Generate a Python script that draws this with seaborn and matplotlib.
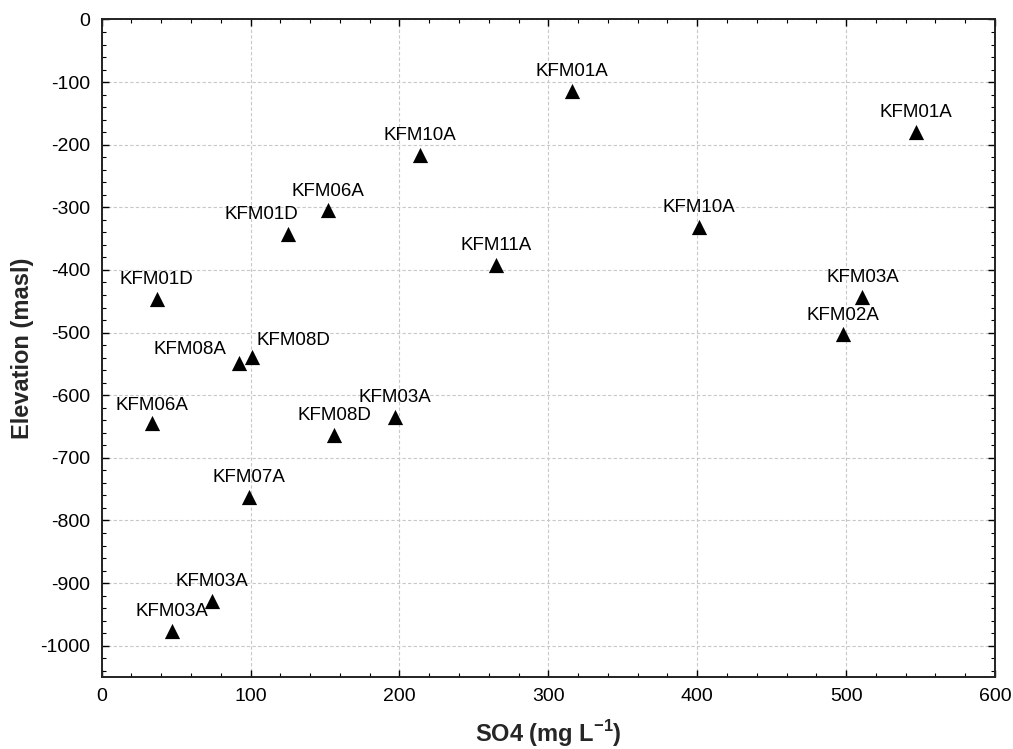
import matplotlib
matplotlib.use("Agg")
import matplotlib.pyplot as plt
import seaborn as sns
import pandas as pd
from matplotlib.ticker import MultipleLocator

# ---- data ----
wells = ["KFM01A", "KFM01A", "KFM10A", "KFM06A", "KFM01D", "KFM10A", "KFM11A",
         "KFM01D", "KFM03A", "KFM02A", "KFM08A", "KFM08D", "KFM06A", "KFM08D",
         "KFM03A", "KFM07A", "KFM03A", "KFM03A"]
so4 = [316, 547, 214, 152, 125, 401, 265, 37, 511, 498, 92, 101, 34, 156,
       197, 99, 74, 47]
elevation = [-114, -179, -216, -305, -342, -331, -392, -447, -443, -502, -548,
             -539, -645, -663, -635, -763, -929, -977]

x_ticks = [0, 100, 200, 300, 400, 500, 600]
y_ticks = [0, -100, -200, -300, -400, -500, -600, -700, -800, -900, -1000]

# label offsets in points (layout only)
label_dx = [0, 0, 0, 0, -19, 0, 0, 0, 0, 0, -35, 30, 0, 0, 0, 0, 0, 0]
label_dy = [14, 14, 14, 14, 14, 14, 14, 14, 14, 13, 9.5, 12, 13, 14, 14, 14, 14, 14]

df = pd.DataFrame({"well": wells, "SO4": so4, "Elevation": elevation})

sns.set_style("ticks")
plt.rcParams["font.family"] = ["Liberation Sans", "DejaVu Sans"]
plt.rcParams["axes.unicode_minus"] = False
plt.rcParams["mathtext.fontset"] = "custom"
plt.rcParams["mathtext.rm"] = "Liberation Sans"
plt.rcParams["mathtext.bf"] = "Liberation Sans:bold"

fig = plt.figure(figsize=(10.13, 7.49), dpi=100)
ax = fig.add_axes([0.1004, 0.0961, 0.8818, 0.8779])

sns.scatterplot(data=df, x="SO4", y="Elevation", marker="^", s=120,
                color="black", edgecolor="black", linewidth=0, ax=ax,
                zorder=3, legend=False)

for w, xv, yv, dx, dy in zip(wells, so4, elevation, label_dx, label_dy):
    ax.annotate(w, (xv, yv), xytext=(dx, dy), textcoords="offset points",
                ha="center", va="center", fontsize=13.5, color="black", zorder=4)

ax.set_xlim(0, 600)
ax.set_ylim(-1050, 0)
ax.set_xticks(x_ticks)
ax.set_yticks(y_ticks)
ax.set_xticklabels([str(v) for v in x_ticks])
ax.set_yticklabels([str(v) for v in y_ticks])
ax.xaxis.set_minor_locator(MultipleLocator(20))
ax.yaxis.set_minor_locator(MultipleLocator(20))

ax.tick_params(axis="both", which="both", direction="in", top=True, right=True,
               color="black", labelsize=14, labelcolor="black")
ax.tick_params(axis="both", which="major", length=5, width=1.0, pad=8)
ax.tick_params(axis="both", which="minor", length=3, width=0.8)

ax.grid(True, which="major", color="#c8c8c8", linestyle=(0, (3, 2)), linewidth=0.8)
ax.set_axisbelow(True)

for sp in ax.spines.values():
    sp.set_visible(True)
    sp.set_color("#222222")
    sp.set_linewidth(1.4)

ax.set_xlabel(r"SO4 (mg L$^{\mathbf{-1}}$)", fontsize=17, fontweight="bold", labelpad=9)
ax.set_ylabel("Elevation (masl)", fontsize=17, fontweight="bold", labelpad=5)

fig.savefig("out.png", dpi=100)
